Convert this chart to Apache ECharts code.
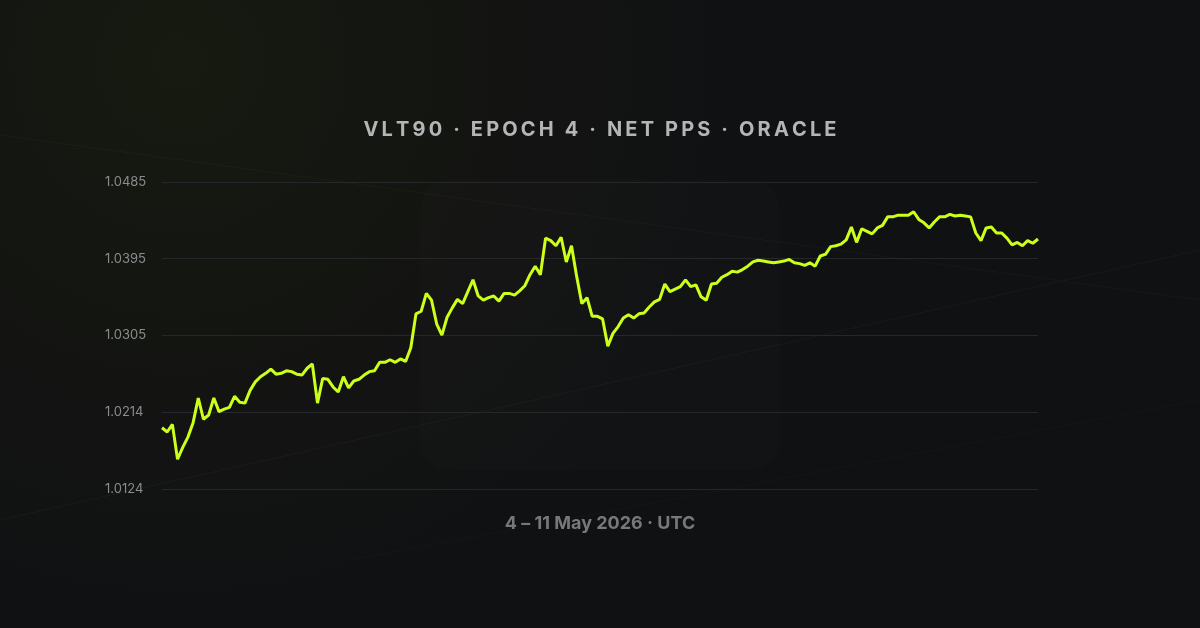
<!DOCTYPE html>
<html><head><meta charset="utf-8">
<script src="https://cdn.jsdelivr.net/npm/echarts@6/dist/echarts.min.js"></script>
<style>
html,body{margin:0;padding:0;width:1200px;height:628px;overflow:hidden;background:#111214;}
#c{width:1200px;height:628px;}
</style></head><body><div id="c"></div>
<script>
const titleText = 'VLT90 · EPOCH 4 · NET PPS · ORACLE';
const subtitleText = '4 – 11 May 2026 · UTC';
const yTicks = [1.0124, 1.0214, 1.0305, 1.0395, 1.0485];
const pps = [1.0196,1.0191,1.0200,1.0159,1.0173,1.0185,1.0202,1.0231,1.0206,1.0211,1.0231,1.0215,1.0218,1.0220,1.0233,1.0226,1.0225,1.0240,1.0250,1.0256,1.0260,1.0265,1.0259,1.0260,1.0263,1.0262,1.0259,1.0258,1.0266,1.0271,1.0225,1.0254,1.0253,1.0244,1.0238,1.0256,1.0243,1.0251,1.0253,1.0258,1.0262,1.0263,1.0273,1.0273,1.0276,1.0273,1.0277,1.0274,1.0290,1.0330,1.0333,1.0354,1.0346,1.0318,1.0305,1.0326,1.0337,1.0347,1.0342,1.0356,1.0370,1.0351,1.0346,1.0349,1.0351,1.0345,1.0354,1.0354,1.0352,1.0357,1.0363,1.0376,1.0386,1.0376,1.0419,1.0416,1.0410,1.0420,1.0391,1.0410,1.0374,1.0342,1.0349,1.0327,1.0327,1.0324,
1.0292,1.0307,1.0315,1.0325,1.0329,1.0325,1.0330,1.0331,1.0338,1.0344,1.0347,1.0365,1.0356,1.0359,1.0362,1.0370,1.0362,1.0364,1.0350,1.0346,1.0365,1.0366,1.0373,1.0376,1.0380,1.0379,1.0382,1.0386,1.0391,1.0393,1.0392,1.0391,1.0390,1.0391,1.0392,1.0394,1.0390,1.0389,1.0387,1.0390,1.0386,1.0398,1.0400,1.0409,1.0410,1.0412,1.0417,1.0432,1.0414,1.0430,1.0427,1.0424,1.0431,1.0434,1.0444,1.0444,1.0446,1.0446,1.0446,1.0450,1.0441,1.0437,1.0431,1.0438,1.0444,1.0444,1.0447,1.0445,1.0446,1.0445,1.0444,1.0425,1.0416,1.0431,1.0432,1.0425,1.0425,1.0419,1.0411,1.0414,1.0410,1.0416,1.0413,1.0418];
const idx = pps.map((_, i) => i);
const yMin = yTicks[0], yMax = yTicks[yTicks.length - 1];

const chart = echarts.init(document.getElementById('c'));
chart.setOption({
  backgroundColor: {type:'radial', x:0.15, y:0.1, r:0.9, colorStops:[{offset:0,color:'#161a10'},{offset:0.6,color:'#131412'},{offset:1,color:'#101113'}]},
  animation:false,
  graphic:[
    {type:'rect', shape:{x:420,y:180,width:360,height:290,r:30}, style:{fill:'rgba(255,255,255,0.012)'} , z:-1},
    {type:'line', shape:{x1:0,y1:520,x2:1200,y2:250}, style:{stroke:'rgba(255,255,255,0.035)',lineWidth:1.2}, z:-1},
    {type:'line', shape:{x1:0,y1:135,x2:1200,y2:300}, style:{stroke:'rgba(180,220,80,0.045)',lineWidth:1.2}, z:-1},
    {type:'line', shape:{x1:350,y1:560,x2:1200,y2:400}, style:{stroke:'rgba(255,255,255,0.025)',lineWidth:1}, z:-1},
    {type:'text', left:'center', top:120, style:{text:titleText.split('').join('\u2009'), fill:'#b4b5b7', font:'bold 20px "Inter", "DejaVu Sans", sans-serif'}},
    {type:'text', left:'center', top:515, style:{text:subtitleText, fill:'#77787b', font:'bold 18px "Inter", "DejaVu Sans", sans-serif'}}
  ],
  grid:{left:162, right:162, top:182, bottom:139},
  xAxis:{type:'category', data:idx, boundaryGap:false, show:false},
  yAxis:{type:'value', min:yMin, max:yMax, interval:(yMax-yMin)/4,
    axisLine:{show:false}, axisTick:{show:false},
    splitLine:{lineStyle:{color:'#25272b', width:1}},
    axisLabel:{margin:57, align:'left', color:'#8a8b8e', fontSize:13, fontFamily:'Inter, sans-serif',
      formatter:(v)=>{let best=yTicks[0];for(const t of yTicks){if(Math.abs(t-v)<Math.abs(best-v))best=t;}return best.toFixed(4);}}},
  series:[{type:'line', data:pps, showSymbol:false, lineStyle:{color:'#ccff1a', width:3}, itemStyle:{color:'#ccff1a'}}]
});
</script></body></html>
